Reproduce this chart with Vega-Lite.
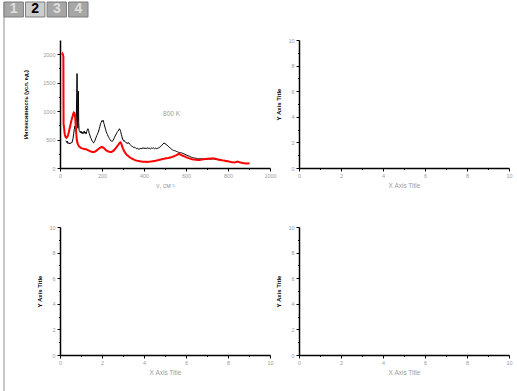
{
  "$schema": "https://vega.github.io/schema/vega-lite/v6.json",
  "padding": {"top": 1, "left": 3, "right": 0, "bottom": 0},
  "background": "white",
  "config": {
    "view": {"stroke": null},
    "axis": {"domainColor": "black", "domainWidth": 1.5, "tickColor": "black", "tickWidth": 1, "labelColor": "#9c9c9c", "labelFont": "Liberation Sans", "labelFontSize": 5.5, "labelPadding": 2, "titleFont": "Liberation Sans", "grid": false, "labelFlush": false, "labelOverlap": false},
    "axisX": {"titleColor": "#9c9c9c", "titleFontWeight": "normal", "titleFontSize": 6.5, "titlePadding": 4},
    "axisY": {"titleColor": "black", "titleFontWeight": "bold", "titleFontSize": 6, "titlePadding": 6}
  },
  "datasets": {
    "black": [
      {"x":28,"y":480},{"x":32,"y":450},{"x":35,"y":470},{"x":38,"y":430},{"x":41,"y":445},{"x":44,"y":425},{"x":47,"y":440},{"x":50,"y":430},{"x":53,"y":450},{"x":56,"y":440},{"x":59,"y":470},{"x":62,"y":520},{"x":65,"y":600},{"x":68,"y":680},{"x":71,"y":740},{"x":74,"y":700},{"x":76,"y":650},{"x":78,"y":900},{"x":80,"y":1400},{"x":81,"y":1660},{"x":82,"y":1550},{"x":83,"y":800},{"x":85,"y":700},{"x":86,"y":1100},{"x":87,"y":1350},{"x":88,"y":1250},{"x":89,"y":800},{"x":91,"y":660},{"x":94,"y":640},{"x":97,"y":620},{"x":100,"y":650},{"x":103,"y":610},{"x":106,"y":630},{"x":109,"y":600},{"x":112,"y":620},{"x":115,"y":650},{"x":118,"y":610},{"x":121,"y":630},{"x":124,"y":600},{"x":127,"y":640},{"x":130,"y":670},{"x":133,"y":690},{"x":136,"y":660},{"x":139,"y":610},{"x":142,"y":580},{"x":145,"y":540},{"x":148,"y":520},{"x":151,"y":490},{"x":154,"y":470},{"x":157,"y":450},{"x":160,"y":440},{"x":163,"y":460},{"x":166,"y":480},{"x":169,"y":510},{"x":172,"y":540},{"x":175,"y":570},{"x":178,"y":590},{"x":181,"y":620},{"x":184,"y":650},{"x":187,"y":690},{"x":190,"y":730},{"x":193,"y":780},{"x":196,"y":800},{"x":199,"y":830},{"x":202,"y":820},{"x":205,"y":840},{"x":208,"y":800},{"x":211,"y":760},{"x":214,"y":720},{"x":217,"y":680},{"x":220,"y":640},{"x":223,"y":610},{"x":226,"y":590},{"x":229,"y":560},{"x":232,"y":540},{"x":235,"y":520},{"x":238,"y":500},{"x":241,"y":480},{"x":244,"y":470},{"x":247,"y":480},{"x":250,"y":470},{"x":253,"y":490},{"x":256,"y":510},{"x":259,"y":530},{"x":262,"y":560},{"x":265,"y":580},{"x":268,"y":600},{"x":271,"y":620},{"x":274,"y":640},{"x":277,"y":650},{"x":280,"y":670},{"x":283,"y":690},{"x":286,"y":670},{"x":289,"y":640},{"x":292,"y":590},{"x":295,"y":550},{"x":298,"y":510},{"x":301,"y":490},{"x":304,"y":470},{"x":307,"y":480},{"x":310,"y":460},{"x":313,"y":450},{"x":316,"y":440},{"x":319,"y":450},{"x":322,"y":430},{"x":325,"y":445},{"x":328,"y":440},{"x":331,"y":420},{"x":334,"y":410},{"x":337,"y":400},{"x":340,"y":390},{"x":344,"y":380},{"x":348,"y":370},{"x":352,"y":360},{"x":356,"y":365},{"x":360,"y":350},{"x":365,"y":340},{"x":370,"y":345},{"x":375,"y":330},{"x":380,"y":335},{"x":385,"y":345},{"x":390,"y":340},{"x":395,"y":355},{"x":400,"y":345},{"x":405,"y":350},{"x":410,"y":340},{"x":415,"y":355},{"x":420,"y":345},{"x":425,"y":350},{"x":430,"y":335},{"x":435,"y":350},{"x":440,"y":345},{"x":445,"y":355},{"x":450,"y":340},{"x":455,"y":350},{"x":460,"y":340},{"x":465,"y":345},{"x":470,"y":355},{"x":475,"y":365},{"x":480,"y":380},{"x":485,"y":400},{"x":490,"y":420},{"x":495,"y":440},{"x":500,"y":430},{"x":505,"y":415},{"x":510,"y":400},{"x":515,"y":385},{"x":520,"y":365},{"x":525,"y":350},{"x":530,"y":335},{"x":535,"y":320},{"x":540,"y":310},{"x":545,"y":305},{"x":550,"y":300},{"x":555,"y":290},{"x":560,"y":285},{"x":565,"y":275},{"x":570,"y":270},{"x":575,"y":268},{"x":580,"y":265},{"x":585,"y":255},{"x":590,"y":250},{"x":595,"y":240},{"x":600,"y":230},{"x":605,"y":225},{"x":610,"y":215},{"x":615,"y":210},{"x":620,"y":200},{"x":625,"y":190},{"x":630,"y":185},{"x":635,"y":180},{"x":640,"y":175},{"x":645,"y":172},{"x":650,"y":170},{"x":655,"y":165},{"x":660,"y":160},{"x":670,"y":163},{"x":680,"y":158},{"x":690,"y":162},{"x":700,"y":152},{"x":710,"y":160},{"x":720,"y":156},{"x":730,"y":163},{"x":740,"y":150},{"x":750,"y":146},{"x":760,"y":140},{"x":770,"y":136},{"x":780,"y":130},{"x":790,"y":126},{"x":800,"y":118}
    ],
    "red": [
      {"x":10,"y":2000},{"x":12,"y":2010},{"x":14,"y":1990},{"x":16,"y":1960},{"x":17,"y":780},{"x":19,"y":720},{"x":21,"y":640},{"x":23,"y":590},{"x":25,"y":560},{"x":27,"y":545},{"x":29,"y":535},{"x":31,"y":530},{"x":33,"y":540},{"x":36,"y":555},{"x":39,"y":590},{"x":42,"y":630},{"x":45,"y":680},{"x":48,"y":730},{"x":51,"y":780},{"x":54,"y":830},{"x":57,"y":870},{"x":60,"y":910},{"x":63,"y":950},{"x":66,"y":975},{"x":68,"y":970},{"x":70,"y":950},{"x":72,"y":900},{"x":74,"y":800},{"x":76,"y":680},{"x":78,"y":580},{"x":80,"y":500},{"x":83,"y":440},{"x":86,"y":410},{"x":89,"y":390},{"x":92,"y":375},{"x":95,"y":365},{"x":98,"y":360},{"x":101,"y":350},{"x":105,"y":345},{"x":110,"y":340},{"x":115,"y":335},{"x":120,"y":330},{"x":125,"y":330},{"x":130,"y":320},{"x":135,"y":310},{"x":140,"y":300},{"x":145,"y":295},{"x":150,"y":285},{"x":155,"y":280},{"x":160,"y":280},{"x":165,"y":285},{"x":170,"y":295},{"x":175,"y":310},{"x":180,"y":325},{"x":185,"y":340},{"x":190,"y":355},{"x":195,"y":365},{"x":200,"y":370},{"x":204,"y":360},{"x":208,"y":355},{"x":212,"y":340},{"x":216,"y":325},{"x":220,"y":310},{"x":225,"y":300},{"x":230,"y":290},{"x":235,"y":285},{"x":240,"y":280},{"x":245,"y":282},{"x":250,"y":290},{"x":255,"y":305},{"x":260,"y":325},{"x":265,"y":345},{"x":270,"y":370},{"x":275,"y":395},{"x":280,"y":420},{"x":284,"y":440},{"x":287,"y":450},{"x":290,"y":440},{"x":293,"y":415},{"x":296,"y":380},{"x":300,"y":340},{"x":305,"y":300},{"x":310,"y":270},{"x":315,"y":245},{"x":320,"y":225},{"x":325,"y":210},{"x":330,"y":195},{"x":335,"y":180},{"x":340,"y":170},{"x":345,"y":160},{"x":350,"y":150},{"x":355,"y":142},{"x":360,"y":135},{"x":365,"y":130},{"x":370,"y":125},{"x":375,"y":122},{"x":380,"y":118},{"x":385,"y":115},{"x":390,"y":113},{"x":395,"y":112},{"x":400,"y":110},{"x":405,"y":108},{"x":410,"y":110},{"x":415,"y":107},{"x":420,"y":109},{"x":425,"y":110},{"x":430,"y":112},{"x":435,"y":115},{"x":440,"y":118},{"x":445,"y":120},{"x":450,"y":125},{"x":455,"y":128},{"x":460,"y":132},{"x":465,"y":136},{"x":470,"y":140},{"x":475,"y":145},{"x":480,"y":150},{"x":485,"y":155},{"x":490,"y":160},{"x":495,"y":163},{"x":500,"y":167},{"x":505,"y":170},{"x":510,"y":173},{"x":515,"y":176},{"x":520,"y":180},{"x":525,"y":185},{"x":530,"y":190},{"x":535,"y":196},{"x":540,"y":202},{"x":545,"y":210},{"x":550,"y":218},{"x":555,"y":228},{"x":560,"y":238},{"x":565,"y":245},{"x":568,"y":248},{"x":572,"y":238},{"x":576,"y":230},{"x":580,"y":222},{"x":585,"y":215},{"x":590,"y":208},{"x":595,"y":200},{"x":600,"y":192},{"x":605,"y":185},{"x":610,"y":178},{"x":615,"y":170},{"x":620,"y":164},{"x":625,"y":158},{"x":630,"y":153},{"x":635,"y":150},{"x":640,"y":148},{"x":645,"y":145},{"x":650,"y":143},{"x":655,"y":142},{"x":660,"y":140},{"x":665,"y":142},{"x":670,"y":145},{"x":675,"y":148},{"x":680,"y":152},{"x":685,"y":155},{"x":690,"y":158},{"x":695,"y":160},{"x":700,"y":162},{"x":705,"y":164},{"x":710,"y":166},{"x":715,"y":163},{"x":720,"y":166},{"x":725,"y":168},{"x":730,"y":170},{"x":735,"y":165},{"x":740,"y":162},{"x":745,"y":158},{"x":750,"y":155},{"x":755,"y":150},{"x":760,"y":146},{"x":765,"y":142},{"x":770,"y":138},{"x":775,"y":134},{"x":780,"y":130},{"x":785,"y":127},{"x":790,"y":124},{"x":795,"y":120},{"x":800,"y":117},{"x":805,"y":113},{"x":810,"y":110},{"x":815,"y":106},{"x":820,"y":103},{"x":825,"y":100},{"x":830,"y":98},{"x":835,"y":102},{"x":840,"y":108},{"x":845,"y":112},{"x":850,"y":106},{"x":855,"y":100},{"x":860,"y":95},{"x":865,"y":92},{"x":870,"y":88},{"x":875,"y":85},{"x":880,"y":83},{"x":885,"y":80},{"x":890,"y":78},{"x":895,"y":80},{"x":900,"y":82},{"x":903,"y":85}
    ]
  },
  "columns": 2,
  "bounds": "flush",
  "align": "none",
  "spacing": {"row": 0, "column": -28},
  "concat": [
    {
      "width": 84,
      "height": 38,
      "data": {"values": [
        {"tab": "1", "sel": 0, "row": "t"},
        {"tab": "2", "sel": 1, "row": "t"},
        {"tab": "3", "sel": 0, "row": "t"},
        {"tab": "4", "sel": 0, "row": "t"}
      ]},
      "layer": [
        {
          "transform": [{"filter": "datum.tab === '1'"}],
          "mark": {"type": "rule", "color": "#b4b4b4", "strokeWidth": 1.5},
          "encoding": {
            "x": {"field": "tab", "type": "nominal", "bandPosition": 0, "scale": {"domain": ["1", "2", "3", "4"], "paddingInner": 0.1, "paddingOuter": 0}, "axis": null}
          }
        },
        {
          "mark": {"type": "rect", "stroke": "#7c7c7c", "strokeWidth": 1},
          "encoding": {
            "x": {"field": "tab", "type": "nominal", "axis": null},
            "y": {"field": "row", "type": "nominal", "scale": {"paddingInner": 0, "paddingOuter": 0.7667, "align": 0}, "axis": null},
            "fill": {"condition": {"test": "datum.sel === 1", "value": "#cdcdcd"}, "value": "#a6a6a6"}
          }
        },
        {
          "mark": {"type": "text", "font": "Liberation Sans", "fontWeight": "bold", "fontSize": 14, "baseline": "middle", "align": "center"},
          "encoding": {
            "x": {"field": "tab", "type": "nominal", "axis": null},
            "y": {"field": "row", "type": "nominal", "axis": null},
            "text": {"field": "tab"},
            "color": {"condition": {"test": "datum.sel === 1", "value": "#000000"}, "value": "#dedede"}
          }
        }
      ]
    },
    {
      "width": 1,
      "height": 38,
      "data": {"values": []},
      "mark": "point"
    },
    {
      "width": 84,
      "height": 352,
      "data": {"values": [{"v": 0}]},
      "mark": {"type": "rule", "color": "#b4b4b4", "strokeWidth": 1.5},
      "encoding": {
        "x": {"field": "v", "type": "quantitative", "scale": {"domain": [0, 1]}, "axis": null}
      }
    },
    {
      "columns": 2,
      "bounds": "flush",
      "spacing": {"row": 59, "column": 29},
      "concat": [
        {
          "width": 210,
          "height": 128,
          "encoding": {
            "x": {"field": "x", "type": "quantitative", "scale": {"domain": [0, 1000], "nice": false},
              "axis": {"title": "ν, см⁻¹", "values": [0,100,200,300,400,500,600,700,800,900,1000], "format": "d", "labelOverlap": false,
                "labelExpr": "datum.value % 200 === 0 ? datum.label : ''",
                "tickSize": {"condition": {"test": "datum.value % 200 === 0", "value": 3}, "value": 1.5}}},
            "y": {"field": "y", "type": "quantitative", "scale": {"domain": [0, 2250], "nice": false},
              "axis": {"title": "Интенсивность (усл. ед.)", "titlePadding": 14, "titleFontSize": 5.6, "values": [0,250,500,750,1000,1250,1500,1750,2000], "format": "d", "labelOverlap": false,
                "labelExpr": "datum.value % 500 === 0 ? datum.label : ''",
                "tickSize": {"condition": {"test": "datum.value % 500 === 0", "value": 3}, "value": 1.5}}}
          },
          "layer": [
            {
              "data": {"name": "black"},
              "mark": {"type": "line", "color": "black", "strokeWidth": 1}
            },
            {
              "data": {"name": "red"},
              "mark": {"type": "line", "color": "#ff0000", "strokeWidth": 2}
            },
            {
              "data": {"values": [{"x": 531, "y": 949, "label": "800 K"}]},
              "mark": {"type": "text", "font": "Liberation Sans", "fontSize": 6.5, "color": "#9c9c9c"},
              "encoding": {
                "text": {"field": "label"}
              }
            }
          ]
        },
        {
          "width": 210,
          "height": 128,
          "data": {"values": []},
          "mark": "point",
          "encoding": {
            "x": {"field": "x", "type": "quantitative", "scale": {"domain": [0, 10], "nice": false},
              "axis": {"title": "X Axis Title", "values": [0,1,2,3,4,5,6,7,8,9,10], "format": "d", "labelOverlap": false,
                "labelExpr": "datum.value % 2 === 0 ? datum.label : ''",
                "tickSize": {"condition": {"test": "datum.value % 2 === 0", "value": 3}, "value": 1.5}}},
            "y": {"field": "y", "type": "quantitative", "scale": {"domain": [0, 10], "nice": false},
              "axis": {"title": "Y Axis Title", "values": [0,1,2,3,4,5,6,7,8,9,10], "format": "d", "labelOverlap": false,
                "labelExpr": "datum.value % 2 === 0 ? datum.label : ''",
                "tickSize": {"condition": {"test": "datum.value % 2 === 0", "value": 3}, "value": 1.5}}}
          }
        },
        {
          "width": 210,
          "height": 128,
          "data": {"values": []},
          "mark": "point",
          "encoding": {
            "x": {"field": "x", "type": "quantitative", "scale": {"domain": [0, 10], "nice": false},
              "axis": {"title": "X Axis Title", "values": [0,1,2,3,4,5,6,7,8,9,10], "format": "d", "labelOverlap": false,
                "labelExpr": "datum.value % 2 === 0 ? datum.label : ''",
                "tickSize": {"condition": {"test": "datum.value % 2 === 0", "value": 3}, "value": 1.5}}},
            "y": {"field": "y", "type": "quantitative", "scale": {"domain": [0, 10], "nice": false},
              "axis": {"title": "Y Axis Title", "values": [0,1,2,3,4,5,6,7,8,9,10], "format": "d", "labelOverlap": false,
                "labelExpr": "datum.value % 2 === 0 ? datum.label : ''",
                "tickSize": {"condition": {"test": "datum.value % 2 === 0", "value": 3}, "value": 1.5}}}
          }
        },
        {
          "width": 210,
          "height": 128,
          "data": {"values": []},
          "mark": "point",
          "encoding": {
            "x": {"field": "x", "type": "quantitative", "scale": {"domain": [0, 10], "nice": false},
              "axis": {"title": "X Axis Title", "values": [0,1,2,3,4,5,6,7,8,9,10], "format": "d", "labelOverlap": false,
                "labelExpr": "datum.value % 2 === 0 ? datum.label : ''",
                "tickSize": {"condition": {"test": "datum.value % 2 === 0", "value": 3}, "value": 1.5}}},
            "y": {"field": "y", "type": "quantitative", "scale": {"domain": [0, 10], "nice": false},
              "axis": {"title": "Y Axis Title", "values": [0,1,2,3,4,5,6,7,8,9,10], "format": "d", "labelOverlap": false,
                "labelExpr": "datum.value % 2 === 0 ? datum.label : ''",
                "tickSize": {"condition": {"test": "datum.value % 2 === 0", "value": 3}, "value": 1.5}}}
          }
        }
      ]
    }
  ]
}
